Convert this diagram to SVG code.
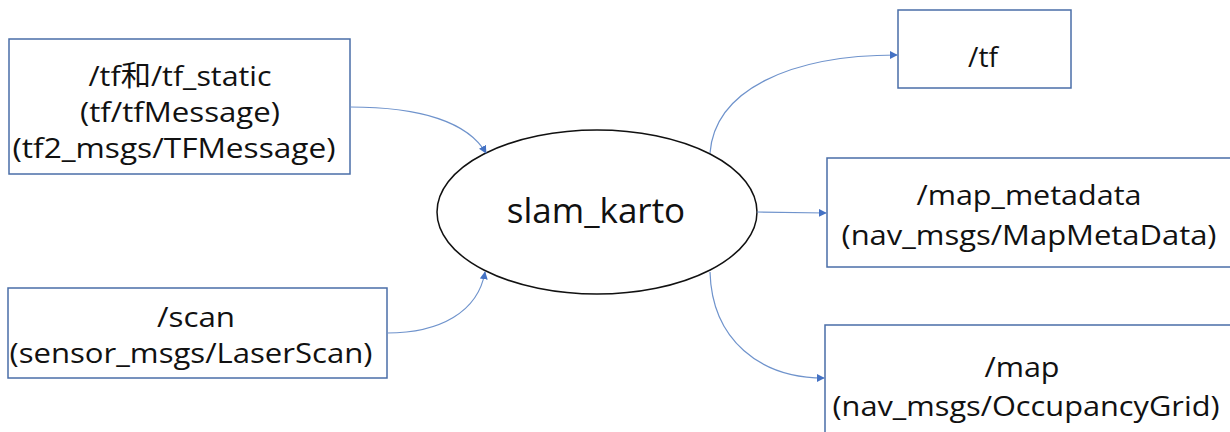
<svg xmlns="http://www.w3.org/2000/svg" width="1230" height="432" viewBox="0 0 1230 432">
<style>
.box{fill:#fff;stroke:#4a6ea8;stroke-width:1.5}
.t{font-family:"Open Sans","Noto Sans CJK SC",sans-serif;font-size:28px;fill:#111;text-anchor:middle}
.c{fill:none;stroke:#6f93cc;stroke-width:1.2;marker-end:url(#a)}
</style>
<defs>
<marker id="a" viewBox="0 0 10 10" refX="9" refY="5" markerWidth="8" markerHeight="8" markerUnits="userSpaceOnUse" orient="auto">
<path d="M0,0 L10,5 L0,10 z" fill="#4472c4"/>
</marker>
</defs>
<rect width="1230" height="432" fill="#fff"/>
<g id="tf_in">
<rect class="box" x="9" y="39" width="341" height="135"/>
<text class="t" x="180" y="86" textLength="183" lengthAdjust="spacingAndGlyphs">/tf和/tf_static</text>
<text class="t" x="180" y="122" textLength="200" lengthAdjust="spacingAndGlyphs">(tf/tfMessage)</text>
<text class="t" x="174" y="158" textLength="323" lengthAdjust="spacingAndGlyphs">(tf2_msgs/TFMessage)</text>
</g>
<g id="scan">
<rect class="box" x="8" y="288" width="379" height="90"/>
<text class="t" x="196" y="327" textLength="78" lengthAdjust="spacingAndGlyphs">/scan</text>
<text class="t" x="191" y="363" textLength="363" lengthAdjust="spacingAndGlyphs">(sensor_msgs/LaserScan)</text>
</g>
<g id="slam_karto">
<ellipse cx="597" cy="212" rx="160" ry="82" fill="#fff" stroke="#111" stroke-width="1.5"/>
<text class="t" x="596" y="223" style="font-size:35px">slam_karto</text>
</g>
<g id="tf_out">
<rect class="box" x="898" y="10" width="173" height="78"/>
<text class="t" x="983" y="67" textLength="30" lengthAdjust="spacingAndGlyphs">/tf</text>
</g>
<g id="map_metadata">
<rect class="box" x="827" y="158" width="410" height="109"/>
<text class="t" x="1029" y="205" textLength="225" lengthAdjust="spacingAndGlyphs">/map_metadata</text>
<text class="t" x="1029" y="245" textLength="375" lengthAdjust="spacingAndGlyphs">(nav_msgs/MapMetaData)</text>
</g>
<g id="map">
<rect class="box" x="825" y="325" width="412" height="120"/>
<text class="t" x="1022" y="377" textLength="75" lengthAdjust="spacingAndGlyphs">/map</text>
<text class="t" x="1026" y="416" textLength="387" lengthAdjust="spacingAndGlyphs">(nav_msgs/OccupancyGrid)</text>
</g>
<g id="connectors">
<path class="c" d="M350,107 C420,107 468,122 486,153"/>
<path class="c" d="M387,333 C440,333 478,312 485,272"/>
<path class="c" d="M710,153 C715,90 790,55 897,55"/>
<path class="c" d="M757,212 L826,213"/>
<path class="c" d="M710,272 C712,340 760,378 824,378"/>
</g>
</svg>
